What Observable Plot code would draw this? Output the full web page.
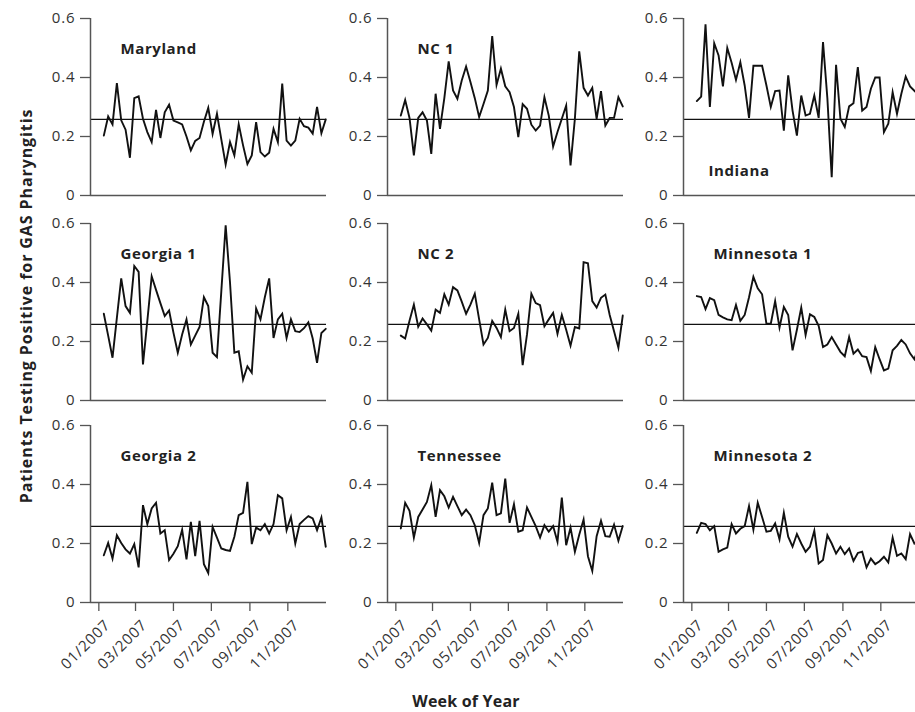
<!DOCTYPE html>
<html><head><meta charset="utf-8">
<script src="https://cdn.jsdelivr.net/npm/d3@7"></script>
<script src="https://cdn.jsdelivr.net/npm/@observablehq/plot@0.6"></script>
<style>
html,body{margin:0;padding:0;background:#fff;overflow:hidden;}
#fig{position:relative;width:915px;height:712px;overflow:hidden;font-family:"Open Sans",sans-serif;}
.panel{position:absolute;}
.panel svg{overflow:visible;max-width:none !important;}
.panel svg g[aria-label="text"] text{letter-spacing:0.6px;}
.panel svg g[aria-label="y-axis tick label"] text{letter-spacing:0.9px;}
.panel svg g[aria-label="x-axis tick label"] text{letter-spacing:0.8px;}
#ytitle{position:absolute;left:-224px;top:296px;width:500px;line-height:20px;text-align:center;font-weight:bold;font-size:16px;letter-spacing:0.9px;color:#222;transform:rotate(-90deg);transform-origin:50% 50%;white-space:nowrap;}
#xtitle{position:absolute;left:366px;top:691px;width:200px;line-height:20px;text-align:center;font-weight:bold;font-size:16px;letter-spacing:0.2px;color:#222;white-space:nowrap;}
</style></head>
<body><div id="fig"><div id="ytitle">Patients Testing Positive for GAS Pharyngitis</div><div id="xtitle">Week of Year</div></div>
<script>
// ---- data (proportion of patients testing positive, weekly, 2007) ----
const sites = ["Maryland", "NC 1", "Indiana", "Georgia 1", "NC 2", "Minnesota 1", "Georgia 2", "Tennessee", "Minnesota 2"];
const maryland = [0.203,0.268,0.241,0.381,0.255,0.223,0.128,0.33,0.336,0.26,0.215,0.181,0.29,0.195,0.282,0.308,0.254,0.248,0.241,0.20,0.153,0.185,0.195,0.25,0.297,0.209,0.277,0.19,0.105,0.181,0.136,0.241,0.17,0.107,0.136,0.249,0.147,0.132,0.145,0.226,0.181,0.379,0.186,0.169,0.186,0.26,0.235,0.23,0.21,0.30,0.211,0.258];
const nc1 = [0.271,0.324,0.263,0.136,0.263,0.282,0.254,0.141,0.345,0.226,0.33,0.455,0.356,0.328,0.39,0.437,0.385,0.33,0.266,0.31,0.356,0.54,0.375,0.43,0.37,0.35,0.30,0.198,0.31,0.294,0.24,0.22,0.237,0.333,0.271,0.166,0.215,0.26,0.305,0.102,0.26,0.489,0.365,0.339,0.365,0.26,0.354,0.237,0.263,0.263,0.333,0.302];
const indiana = [0.32,0.335,0.58,0.30,0.516,0.475,0.37,0.50,0.45,0.392,0.452,0.373,0.263,0.44,0.44,0.44,0.373,0.30,0.354,0.356,0.22,0.407,0.288,0.203,0.339,0.271,0.277,0.339,0.263,0.52,0.33,0.062,0.443,0.26,0.232,0.302,0.313,0.435,0.288,0.30,0.362,0.40,0.40,0.215,0.243,0.35,0.277,0.345,0.403,0.37,0.355,0.34];
const georgia1 = [0.294,0.22,0.145,0.28,0.414,0.32,0.297,0.456,0.436,0.122,0.27,0.421,0.375,0.33,0.286,0.305,0.23,0.162,0.224,0.275,0.19,0.22,0.249,0.35,0.32,0.162,0.147,0.37,0.594,0.40,0.162,0.167,0.071,0.116,0.094,0.312,0.275,0.35,0.414,0.212,0.275,0.294,0.212,0.275,0.235,0.232,0.245,0.265,0.21,0.128,0.229,0.243];
const nc2 = [0.22,0.21,0.27,0.325,0.25,0.278,0.258,0.237,0.308,0.297,0.36,0.325,0.384,0.373,0.335,0.294,0.325,0.362,0.275,0.19,0.212,0.27,0.246,0.215,0.308,0.235,0.246,0.294,0.12,0.224,0.362,0.33,0.323,0.252,0.275,0.297,0.226,0.29,0.24,0.186,0.249,0.244,0.469,0.465,0.337,0.315,0.348,0.359,0.29,0.235,0.179,0.288];
const minnesota1 = [0.354,0.351,0.31,0.347,0.34,0.29,0.282,0.275,0.272,0.324,0.27,0.29,0.35,0.419,0.38,0.36,0.26,0.26,0.337,0.247,0.317,0.29,0.17,0.24,0.315,0.222,0.292,0.283,0.253,0.181,0.19,0.215,0.19,0.165,0.15,0.215,0.159,0.173,0.15,0.147,0.10,0.181,0.14,0.102,0.108,0.17,0.185,0.205,0.19,0.16,0.14,0.18];
const georgia2 = [0.16,0.202,0.149,0.228,0.202,0.18,0.166,0.198,0.119,0.33,0.266,0.319,0.338,0.234,0.245,0.144,0.165,0.191,0.247,0.146,0.273,0.157,0.277,0.13,0.10,0.256,0.22,0.183,0.178,0.175,0.223,0.296,0.304,0.409,0.198,0.254,0.245,0.266,0.234,0.266,0.364,0.353,0.245,0.29,0.20,0.266,0.28,0.293,0.285,0.245,0.288,0.189];
const tennessee = [0.251,0.338,0.311,0.22,0.29,0.315,0.341,0.398,0.29,0.381,0.36,0.322,0.358,0.327,0.296,0.315,0.296,0.262,0.202,0.296,0.319,0.406,0.296,0.302,0.42,0.27,0.333,0.24,0.245,0.322,0.29,0.259,0.22,0.262,0.24,0.259,0.206,0.356,0.194,0.254,0.172,0.23,0.281,0.157,0.107,0.225,0.277,0.225,0.223,0.264,0.209,0.259];
const minnesota2 = [0.236,0.27,0.266,0.245,0.259,0.172,0.18,0.186,0.266,0.234,0.25,0.259,0.327,0.247,0.338,0.29,0.24,0.243,0.268,0.214,0.304,0.223,0.189,0.232,0.20,0.172,0.189,0.243,0.132,0.144,0.228,0.20,0.166,0.189,0.164,0.183,0.141,0.168,0.172,0.119,0.149,0.13,0.14,0.155,0.136,0.22,0.158,0.166,0.147,0.232,0.2,0.21];
const overallRate = 0.258;          // horizontal reference line
const yTicks = [0, 0.2, 0.4, 0.6];
const monthTicks = ["2007-01-01", "2007-03-01", "2007-05-01", "2007-07-01", "2007-09-01", "2007-11-01"];
const firstWeek = "2007-01-09";

// ---- layout ----
const seriesList = [maryland, nc1, indiana, georgia1, nc2, minnesota1, georgia2, tennessee, minnesota2];
const xDomain = [new Date("2006-12-18T14:00Z"), new Date("2008-01-02T05:00Z")];
const colAxisX = [90, 387.3, 683];
const rowTop = [18, 222.5, 425];
const ML = 45, MR = 4, MT = 10, PW = 236, PH = 177;

const fig = document.getElementById("fig");
const fmtY = d => d === 0 ? "0" : d.toFixed(1);
const fmtX = d3.utcFormat("%m/%Y");
const monthDates = monthTicks.map(s => new Date(s));

sites.forEach((name, i) => {
  const col = i % 3, row = Math.floor(i / 3);
  const values = seriesList[i];
  const rows = values.map((v, k) => ({date: d3.utcDay.offset(new Date(firstWeek), 7 * k), rate: v}));
  const bottom = row === 2;
  const MB = bottom ? 90 : 8;
  const isIndiana = name === "Indiana";
  const marks = [
    Plot.ruleY([overallRate], {stroke: "#111", strokeWidth: 1.2}),
    Plot.line(rows, {x: "date", y: "rate", stroke: "#111", strokeWidth: 1.9, strokeLinejoin: "miter", strokeMiterlimit: 6}),
    Plot.ruleY([0], {stroke: "#555", strokeWidth: 1.5}),
    Plot.ruleX([xDomain[0]], {y1: 0, y2: 0.6, stroke: "#555", strokeWidth: 1.5}),
    Plot.axisY({ticks: yTicks, tickFormat: fmtY, tickSize: 10, tickPadding: 5, label: null, fontSize: 15, stroke: "#555", strokeWidth: 1.3, fill: "#333"}),
    Plot.text([name], {text: d => d, frameAnchor: "top-left", lineAnchor: "bottom",
      dx: isIndiana ? 25 : 30, dy: isIndiana ? 157 : 35.5,
      fontWeight: "bold", fontSize: 15, fill: "#222"})
  ];
  if (bottom) {
    // tick marks
    marks.push(Plot.axisX({ticks: monthDates, tickFormat: () => "", tickSize: 9, label: null, stroke: "#555", strokeWidth: 1.3}));
    // rotated tick labels
    marks.push(Plot.axisX({ticks: monthDates, tickFormat: fmtX, tickRotate: -45, tickSize: 0,
      tickPadding: 14, dx: 9, dy: 6, label: null, fontSize: 15, fill: "#333"}));
  }
  const W = ML + PW + MR, H = MT + PH + MB;
  const svg = Plot.plot({
    width: W, height: H,
    marginLeft: ML, marginRight: MR, marginTop: MT, marginBottom: MB,
    x: bottom ? {type: "utc", domain: xDomain} : {type: "utc", domain: xDomain, axis: null},
    y: {domain: [0, 0.6]},
    style: {fontFamily: "'Open Sans', sans-serif", fontSize: "15px", color: "#444", background: "transparent", overflow: "visible", maxWidth: "none"},
    marks
  });
  const wrap = document.createElement("div");
  wrap.className = "panel";
  wrap.style.left = (colAxisX[col] - ML) + "px";
  wrap.style.top = (rowTop[row] - MT) + "px";
  wrap.style.width = W + "px";
  wrap.style.height = H + "px";
  wrap.appendChild(svg);
  fig.appendChild(wrap);
});
</script>
</body></html>
